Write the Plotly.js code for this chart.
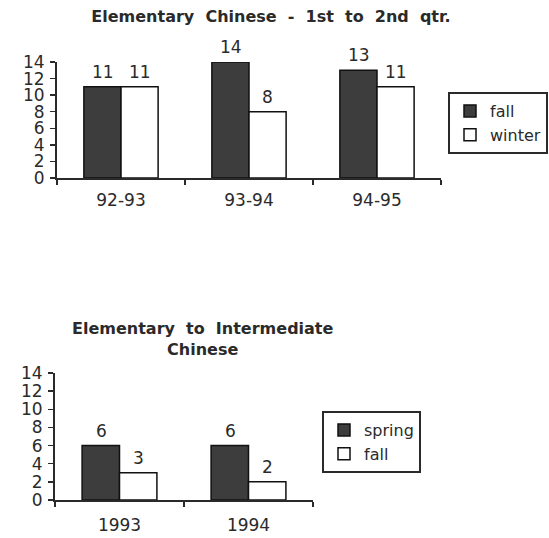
<!DOCTYPE html>
<html>
<head>
<meta charset="utf-8">
<script src="https://cdn.plot.ly/plotly-3.0.1.min.js"></script>
<style>html,body{margin:0;padding:0;background:#fff;}#chart{width:549px;height:538px;}</style>
</head>
<body>
<div id="chart"></div>
<script>
// Chart 1: Elementary Chinese - 1st to 2nd qtr.
var years1 = ["92-93", "93-94", "94-95"];
var fall1 = [11, 14, 13];
var winter1 = [11, 8, 11];
// Chart 2: Elementary to Intermediate Chinese
var years2 = ["1993", "1994"];
var spring2 = [6, 6];
var fall2 = [3, 2];
var yTicks = [0, 2, 4, 6, 8, 10, 12, 14];

var W = 549, H = 538;
var FONT = "DejaVu Sans";
var DARK = "#3d3d3d";
var INK = "#2a2a2a";

function barTrace(name, x, y, color, xa, ya, lg) {
  return {
    type: "bar", name: name, x: x, y: y, xaxis: xa, yaxis: ya, legend: lg,
    marker: {color: color, line: {color: "#111", width: 1.5}},
    hoverinfo: "x+y+name"
  };
}

var data = [
  barTrace("fall", years1, fall1, DARK, "x", "y", "legend"),
  barTrace("winter", years1, winter1, "#ffffff", "x", "y", "legend"),
  barTrace("spring", years2, spring2, DARK, "x2", "y2", "legend2"),
  barTrace("fall", years2, fall2, "#ffffff", "x2", "y2", "legend2")
];

// value labels: x given as category serial index (numeric-looking category names would be misread)
function labels(x, y, xref, yref, dx) {
  return x.map(function (c, i) {
    return {x: i, y: y[i], xref: xref, yref: yref, xshift: dx, yshift: 15,
      yanchor: "middle", xanchor: "center", showarrow: false, text: String(y[i]),
      font: {family: FONT, size: 17, color: INK}};
  });
}
var ann = [].concat(
  labels(years1, fall1, "x", "y", -18.5),
  labels(years1, winter1, "x", "y", 18.5),
  labels(years2, spring2, "x2", "y2", -18.5),
  labels(years2, fall2, "x2", "y2", 18.5)
);
ann.push({
  text: "Elementary  to  Intermediate<br>Chinese", xref: "paper", yref: "paper",
  x: 203 / W, y: 1 - 339 / H, xanchor: "center", yanchor: "middle", showarrow: false,
  align: "center", font: {family: FONT, size: 16, color: INK, weight: "bold"}
});

function yaxis(dom, anchor) {
  return {domain: dom, anchor: anchor, range: [0, 14], tickvals: yTicks, ticks: "outside", ticklen: 5,
    tickwidth: 1.5, tickcolor: INK, showline: true, linecolor: INK, linewidth: 2,
    showgrid: false, zeroline: false, fixedrange: true, autorange: false,
    tickfont: {family: FONT, size: 17, color: INK}, ticklabelstandoff: 2};
}
function xaxis(dom, anchor, n, standoff) {
  return {domain: dom, anchor: anchor, type: "category", range: [-0.5, n - 0.5], autorange: false,
    ticks: "outside", tickson: "boundaries",
    ticklen: 5, tickwidth: 1.5, tickcolor: INK, showline: true, linecolor: INK, linewidth: 2,
    showgrid: false, zeroline: false, fixedrange: true, ticklabelstandoff: standoff, tickangle: 0,
    tickfont: {family: FONT, size: 17, color: INK}};
}

var layout = {
  width: W, height: H,
  margin: {l: 0, r: 0, t: 0, b: 0, autoexpand: false},
  paper_bgcolor: "#fff", plot_bgcolor: "rgba(0,0,0,0)",
  font: {family: FONT, color: INK},
  barmode: "group", bargap: 0.42, bargroupgap: 0,
  title: {text: "Elementary  Chinese  -  1st  to  2nd  qtr.", x: 271 / W, xanchor: "center",
    y: 1 - 16 / H, yanchor: "middle", xref: "paper", yref: "container",
    font: {family: FONT, size: 16, color: INK, weight: "bold"}},
  xaxis: xaxis([57 / W, 441 / W], "y", years1.length, 6),
  yaxis: yaxis([1 - 178 / H, 1 - 62 / H], "x"),
  xaxis2: xaxis([55 / W, 313 / W], "y2", years2.length, 9),
  yaxis2: yaxis([1 - 500 / H, 1 - 373 / H], "x2"),
  legend: {x: 448 / W, y: 1 - 92 / H, xanchor: "left", yanchor: "top", bordercolor: INK,
    borderwidth: 2, bgcolor: "#fff", itemwidth: 30, tracegroupgap: 0,
    font: {family: FONT, size: 16, color: INK}},
  legend2: {x: 322 / W, y: 1 - 411 / H, xanchor: "left", yanchor: "top", bordercolor: INK,
    borderwidth: 2, bgcolor: "#fff", itemwidth: 30, tracegroupgap: 0,
    font: {family: FONT, size: 16, color: INK}},
  showlegend: true,
  annotations: ann
};

Plotly.newPlot("chart", data, layout, {staticPlot: true, displayModeBar: false});
</script>
</body>
</html>
